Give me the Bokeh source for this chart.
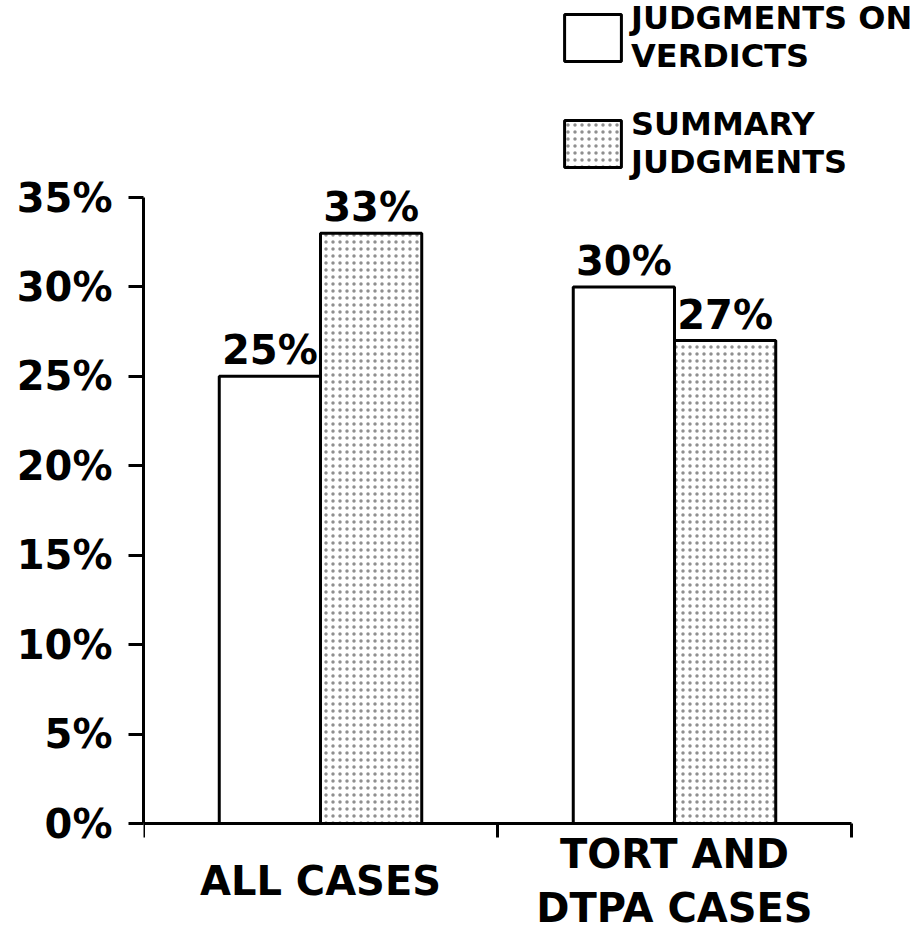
from bokeh.plotting import figure
from bokeh.models import (Range1d, FixedTicker, ColumnDataSource, Legend, LegendItem)
from bokeh.core.properties import value
from bokeh.embed import file_html
from bokeh.resources import INLINE

categories = ["ALL CASES", "TORT AND\nDTPA CASES"]
verdicts = [25, 30]
summary = [33, 27]
y_ticks = [0, 5, 10, 15, 20, 25, 30, 35]
series_names = ["JUDGMENTS ON\nVERDICTS", "SUMMARY\nJUDGMENTS"]

FONT = "DejaVu Sans"

px_per_pct = (823 - 197) / 35.0
p = figure(width=923, height=933, output_backend="svg", toolbar_location=None,
           x_range=Range1d(0, 780 / 354.0),
           y_range=Range1d(-(933 - 823) / px_per_pct, 823 / px_per_pct),
           min_border_left=143, min_border_right=0, min_border_top=0, min_border_bottom=0)
p.outline_line_color = None
p.xgrid.visible = False
p.ygrid.visible = False

centers = [i + 0.5 for i in range(len(categories))]
bw = 0.286
src_v = ColumnDataSource(dict(x=[c - bw / 2 for c in centers], top=verdicts,
                              lbl=[f"{v}%" for v in verdicts]))
src_s = ColumnDataSource(dict(x=[c + bw / 2 for c in centers], top=summary,
                              lbl=[f"{v}%" for v in summary]))

r1 = p.vbar(x="x", top="top", width=bw, source=src_v, fill_color="white",
            line_color="black", line_width=3)
r2 = p.vbar(x="x", top="top", width=bw, source=src_s, fill_color="white",
            line_color="black", line_width=3, hatch_pattern="dot",
            hatch_color="#444444", hatch_alpha=0.6, hatch_scale=7, hatch_weight=0.5)

for src in (src_v, src_s):
    p.text(x="x", y="top", text="lbl", source=src, text_align="center",
           text_baseline="bottom", y_offset=-3, text_font=value(FONT),
           text_font_style="bold", text_font_size="40px", text_color="black")

# category labels under the axis
cat_src = ColumnDataSource(dict(x=centers, y=[-3.2] * len(categories), t=categories))
p.text(x="x", y="y", text="t", source=cat_src, text_align="center",
       text_baseline="middle", text_font=value(FONT), text_font_style="bold",
       text_font_size="40px", text_color="black", text_line_height=1.17)

# y axis
ya = p.yaxis[0]
ya.ticker = FixedTicker(ticks=y_ticks, minor_ticks=[])
ya.major_label_overrides = {t: f"{t}%" for t in y_ticks}
ya.bounds = (0, 35)
ya.axis_line_width = 3
ya.major_tick_line_width = 3
ya.major_tick_out = 15
ya.major_tick_in = 0
ya.major_label_standoff = 16
ya.major_label_text_font = FONT
ya.major_label_text_font_style = "bold"
ya.major_label_text_font_size = "40px"
ya.major_label_text_color = "black"

# x axis at y = 0, ticks at category boundaries
xa = p.xaxis[0]
xa.fixed_location = 0
xa.ticker = FixedTicker(ticks=[], minor_ticks=list(range(len(categories) + 1)))
xa.bounds = (0, len(categories))
xa.axis_line_width = 3
xa.minor_tick_line_width = 3
xa.minor_tick_out = 14
xa.minor_tick_in = 0

legend = Legend(items=[LegendItem(label=series_names[0], renderers=[r1]),
                       LegendItem(label=series_names[1], renderers=[r2])],
                location=(414, 752), glyph_width=71, glyph_height=59,
                label_standoff=3, spacing=30, padding=0, margin=0,
                border_line_alpha=0, background_fill_alpha=0,
                label_text_font=FONT, label_text_font_style="bold",
                label_text_font_size="32px", label_text_color="black",
                label_text_line_height=1.14)
p.add_layout(legend)

open("out.html", "w").write(file_html(p, INLINE))
